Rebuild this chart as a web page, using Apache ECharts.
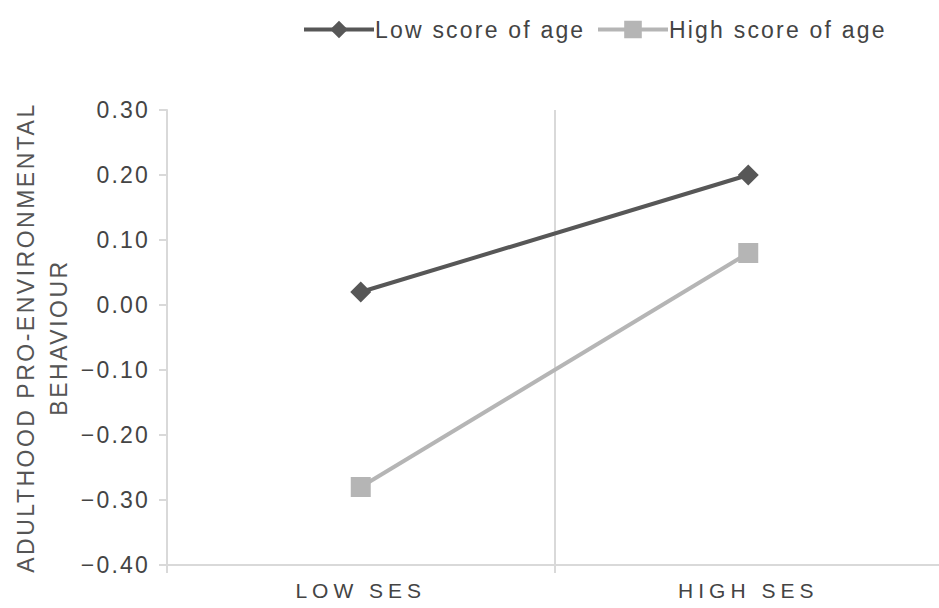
<!DOCTYPE html>
<html>
<head>
<meta charset="utf-8">
<script src="https://cdn.jsdelivr.net/npm/echarts@6/dist/echarts.min.js"></script>
<style>html,body{margin:0;padding:0;background:#fff;}#c{width:939px;height:608px;}</style>
</head>
<body>
<div id="c"></div>
<script>
const categories = ['LOW SES', 'HIGH SES'];
const lowAge = [0.02, 0.20];
const highAge = [-0.28, 0.08];
const seriesNames = ['Low score of age', 'High score of age'];
const yName = 'ADULTHOOD PRO-ENVIRONMENTAL\nBEHAVIOUR';

const font = "'Liberation Sans', Arial, Helvetica, sans-serif";
const txt = '#444';
const axisCol = '#d9d9d9';
const chart = echarts.init(document.getElementById('c'), null, { renderer: 'svg' });

function legendAt(left, name) {
  return {
    top: 13, left: left,
    itemWidth: 70, itemHeight: 22, itemGap: 0,
    lineStyle: { width: 4 },
    textStyle: { fontSize: 23, color: txt, fontFamily: font, padding: [0, 0, 0, -4] },
    data: [name]
  };
}

chart.setOption({
  animation: false,
  backgroundColor: '#fff',
  textStyle: { fontFamily: font },
  legend: [legendAt(297, seriesNames[0]), legendAt(591, seriesNames[1])],
  grid: { left: 167, right: -3, top: 110, bottom: 43, containLabel: false, outerBoundsMode: 'none' },
  xAxis: {
    type: 'category',
    data: categories,
    boundaryGap: true,
    axisLine: { onZero: false, lineStyle: { color: axisCol, width: 2 } },
    axisTick: { show: true, length: 8, lineStyle: { color: axisCol, width: 2 } },
    splitLine: { show: true, lineStyle: { color: axisCol, width: 2 } },
    axisLabel: { fontSize: 21, color: txt, margin: 15, fontFamily: font }
  },
  yAxis: {
    type: 'value',
    min: -0.4, max: 0.3, interval: 0.1,
    name: yName,
    nameLocation: 'middle',
    nameGap: 92,
    nameRotate: 90,
    nameTextStyle: { fontSize: 23, color: '#555', fontFamily: font, lineHeight: 33 },
    axisLine: { show: true, lineStyle: { color: axisCol, width: 2 } },
    axisTick: { show: true, length: 8, lineStyle: { color: axisCol, width: 2 } },
    splitLine: { show: false },
    axisLabel: {
      fontSize: 23, color: txt, margin: 17, fontFamily: font,
      formatter: v => (v < 0 ? '\u2212' + Math.abs(v).toFixed(2) : v.toFixed(2))
    }
  },
  series: [
    {
      name: seriesNames[0], type: 'line', data: lowAge,
      symbol: 'diamond', symbolSize: 21,
      lineStyle: { color: '#575757', width: 4 },
      itemStyle: { color: '#575757' }
    },
    {
      name: seriesNames[1], type: 'line', data: highAge,
      symbol: 'rect', symbolSize: 20,
      lineStyle: { color: '#b5b5b5', width: 4 },
      itemStyle: { color: '#b5b5b5' }
    }
  ]
});

function applySpacing() {
  document.querySelectorAll('#c svg text').forEach(t => {
    const s = t.textContent;
    let sp = 2.2;
    if (categories.indexOf(s) >= 0) sp = 5;
    else if (/[A-Z]{4,}/.test(s)) sp = 2.5;
    t.setAttribute('letter-spacing', sp + 'px');
  });
}
applySpacing();
chart.on('finished', applySpacing);
</script>
</body>
</html>
